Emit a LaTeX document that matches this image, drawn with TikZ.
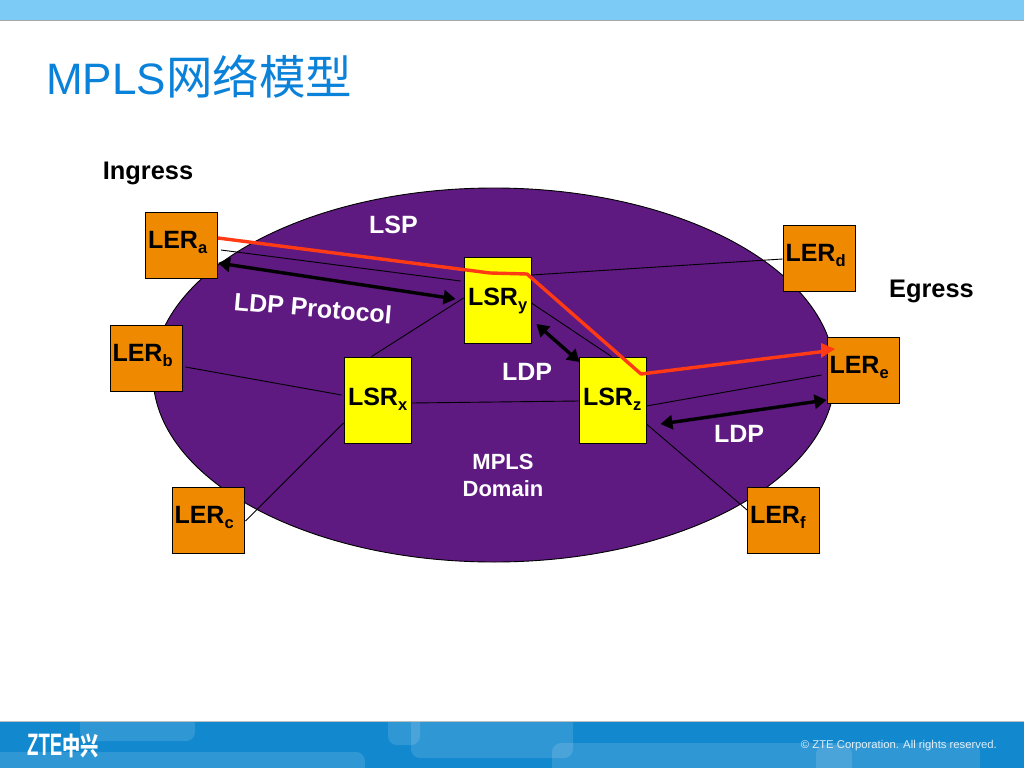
\documentclass[tikz,border=0pt]{standalone}
\usepackage{fontspec}
\setmainfont{Liberation Sans}
\newfontfamily\cjkf{Noto Sans CJK SC}
\usetikzlibrary{shapes.geometric,arrows.meta,calc}
\definecolor{domainpurple}{HTML}{5E1A80}
\definecolor{lerorange}{HTML}{EF8A00}
\definecolor{lsryellow}{HTML}{FFFF00}
\definecolor{lspred}{HTML}{FF3A14}
\definecolor{topband}{HTML}{7CCBF6}
\definecolor{footblue}{HTML}{1288CF}
\definecolor{titleblue}{HTML}{0B82DA}
\newcommand{\subs}[1]{\raisebox{-5.5pt}{\fontsize{16.5}{16.5}\selectfont\bfseries #1}}
\newcommand{\fsz}[1]{\fontsize{#1}{#1}\selectfont}
\tikzset{
  devbox/.style={draw=black,line width=0.9pt,inner ysep=0pt,align=left,font=\fsz{25}\bfseries},
  lerbox/.style={devbox,fill=lerorange,inner xsep=2.5pt,text width=67pt,text height=36pt,text depth=30pt},
  lsrbox/.style={devbox,fill=lsryellow,inner xsep=4pt,text width=59pt,text height=48pt,text depth=38pt},
  link/.style={draw=black,line width=0.9pt},
  ldparrow/.style={draw=black,line width=3.4pt,{Triangle[length=12pt,width=14pt]}-{Triangle[length=12pt,width=14pt]}},
  lsppath/.style={draw=lspred,line width=3.4pt,line join=round},
  whitelabel/.style={text=white,font=\fsz{25}\bfseries,inner sep=0pt,align=center},
  blacklabel/.style={text=black,font=\fsz{25.4}\bfseries,inner sep=0pt},
  footshape/.style={fill=white,fill opacity=0.13,draw=none,rounded corners=9pt}
}
\begin{document}
\begin{tikzpicture}[x=1pt,y=-1pt]
\useasboundingbox (0,0) rectangle (1024,768);
\fill[white] (0,0) rectangle (1024,768);
% top band
\fill[topband] (0,0) rectangle (1024,20);
\fill[black!35] (0,20) rectangle (1024,21);
% footer
\fill[footblue] (0,722) rectangle (1024,768);
\fill[black!25] (0,721) rectangle (1024,722);
\begin{scope}
\clip (0,722) rectangle (1024,768);
\fill[footshape] (80,700) rectangle (195,741);
\fill[footshape] (-20,752) rectangle (365,800);
\fill[footshape] (388,700) rectangle (420,745);
\fill[footshape] (411,700) rectangle (573,758);
\fill[footshape] (552,743) rectangle (980,800);
\fill[footshape] (816,745) rectangle (852,800);
\end{scope}
\node[anchor=west,inner sep=0pt,text=white] (logo) at (27,745.5) {\scalebox{0.6}[1]{\fsz{31}\bfseries ZTE}\scalebox{0.76}[1.05]{\cjkf\fsz{24}\bfseries 中兴}};
\node[anchor=east,inner sep=0pt,text=white,opacity=0.85] (copy) at (997,746) {\fsz{11.3}© ZTE Corporation. All rights reserved.};
% title
\node[anchor=west,inner sep=0pt,text=titleblue] (title) at (46,77) {\fsz{44}MPLS{\cjkf\fsz{46.5}网络模型}};
% domain
\node[ellipse,draw=black,line width=0.9pt,fill=domainpurple,minimum width=682pt,minimum height=374pt,inner sep=0pt] (dom) at (494,375) {};
\coordinate (A) at (181.5,245);
\coordinate (B) at (146,358);
\coordinate (C) at (208,520);
\coordinate (D) at (819,258);
\coordinate (E) at (863,370);
\coordinate (F) at (783.5,520);
\coordinate (X) at (377.5,400);
\coordinate (Y) at (497.5,300);
\coordinate (Z) at (612.5,400);
% devices
\node[lerbox] (a) at (A) {LER\subs{a}};
\node[lerbox] (b) at (B) {LER\subs{b}};
\node[lerbox] (c) at (C) {LER\subs{c}};
\node[lerbox] (d) at (D) {LER\subs{d}};
\node[lerbox] (e) at (E) {LER\subs{e}};
\node[lerbox] (f) at (F) {LER\subs{f}};
\node[lsrbox] (x) at (X) {LSR\subs{x}};
\node[lsrbox] (y) at (Y) {LSR\subs{y}};
\node[lsrbox] (z) at (Z) {LSR\subs{z}};
% links
\draw[link] ($(a.east)+(3,5)$) -- ($(y.west)+(-3,-19)$);
\draw[link] ($(b.east)+(3,9)$) -- ($(x.west)+(-2,-5)$);
\draw[link] ($(c.east)+(1,1)$) -- ($(x.west)+(0,23)$);
\draw[link] ($(x.north)+(-6,0)$) -- ($(y.west)+(0,-2)$);
\draw[link] ($(x.east)+(0,3)$) -- ($(z.west)+(0,1)$);
\draw[link] ($(y.east)+(0,-25)$) -- ($(d.west)+(0,1)$);
\draw[link] ($(y.east)+(0,3)$) -- ($(z.north)+(-1,0)$);
\draw[link] ($(z.east)+(0,6)$) -- ($(e.west)+(-5,5)$);
\draw[link] ($(z.east)+(0,24)$) -- ($(f.west)+(0,-10)$);
% LDP arrows
\draw[ldparrow] ($(a.east)+(0,18)$) -- ($(y.west)+(-8,-1)$);
\draw[ldparrow] ($(y.east)+(5,24)$) -- ($(z.west)+(1,-38)$);
\draw[ldparrow] ($(z.east)+(14,24)$) -- ($(e.west)+(0,30)$);
% LSP
\draw[lsppath] ($(a.east)+(0,-7)$) -- ($(Y)+(-7.5,-27)$) -- ($(Y)+(29.5,-26)$) -- ($(Z)+(28.5,-26)$) -- ($(E)+(-36,-19)$);
\fill[lspred] ($(E)+(-28,-21)$) -- ++(-14,-6) -- ++(0,15) -- cycle;
% labels
\node[blacklabel] (ingress) at (148,173) {Ingress};
\node[blacklabel] (egress) at (931.5,291) {Egress};
\node[whitelabel] (lsp) at (393.5,225) {LSP};
\node[whitelabel,rotate=-5] (ldpp) at (313,308) {LDP Protocol};
\node[whitelabel] (ldp1) at (527,372) {LDP};
\node[whitelabel] (ldp2) at (739,434) {LDP};
\node[whitelabel,font=\fsz{22}\bfseries,align=center] (mpls) at (503,475) {MPLS\\[5pt]Domain};
\end{tikzpicture}
\end{document}
